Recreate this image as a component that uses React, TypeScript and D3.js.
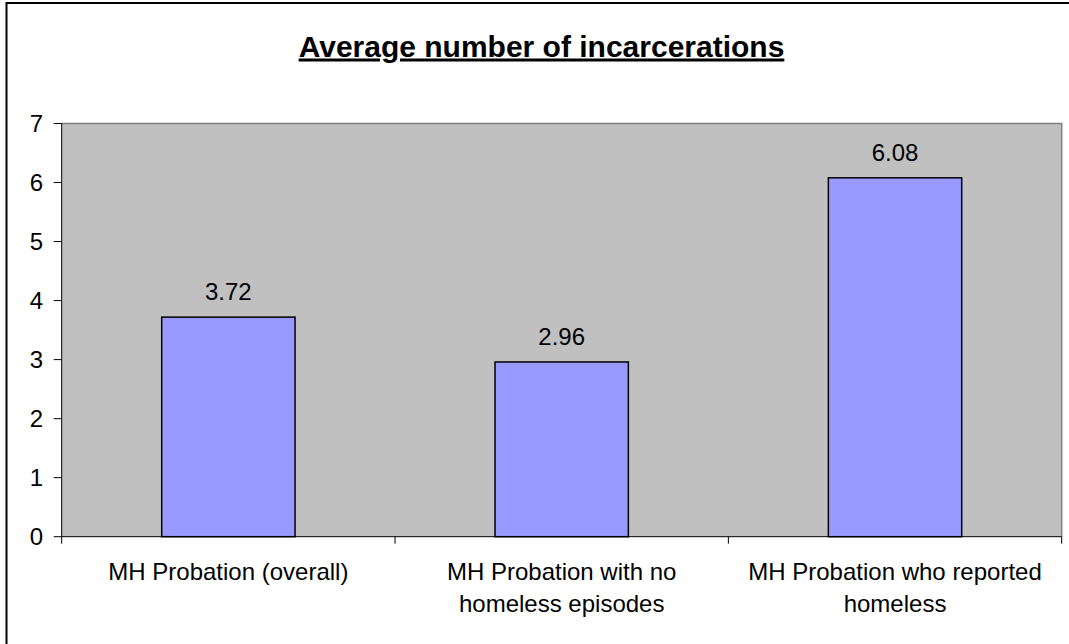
import React, { useRef, useEffect } from 'react'
import * as d3 from 'd3'

const title = 'Average number of incarcerations'
const categories = [
  ['MH Probation (overall)'],
  ['MH Probation with no', 'homeless episodes'],
  ['MH Probation who reported', 'homeless'],
]
const values = [3.72, 2.96, 6.08]
const yTicks = [0, 1, 2, 3, 4, 5, 6, 7]

const FONT = '"Liberation Sans", Arial, Helvetica, sans-serif'

const App = () => {
  const container = useRef<SVGSVGElement>(null)

  const width = 1069
  const height = 644
  const plot = { left: 61.7, right: 1061.7, top: 123.5, bottom: 536.7 }

  useEffect(() => {
    const svg = d3.select(container.current)
    svg.selectAll('*').remove()

    // chart area border (runs off the right / bottom of the picture)
    svg.append('rect')
      .attr('x', 6.5)
      .attr('y', 3)
      .attr('width', 1070)
      .attr('height', 660)
      .attr('fill', '#fff')
      .attr('stroke', '#000')
      .attr('stroke-width', 2)

    svg.append('text')
      .attr('x', 541.5)
      .attr('y', 56.5)
      .attr('text-anchor', 'middle')
      .attr('text-decoration', 'underline')
      .style('font-family', FONT)
      .style('font-size', '30px')
      .style('font-weight', 700)
      .style('fill', '#000')
      .text(title)

    const y = d3.scaleLinear()
      .domain([0, 7])
      .range([plot.bottom, plot.top])

    const x = d3.scaleBand<number>()
      .domain(d3.range(values.length))
      .range([plot.left, plot.right])
      .paddingInner(0.6)
      .paddingOuter(0.3)

    const edge = d3.scaleLinear()
      .domain([0, values.length])
      .range([plot.left, plot.right])

    // plot area
    svg.append('rect')
      .attr('x', plot.left)
      .attr('y', plot.top)
      .attr('width', plot.right - plot.left)
      .attr('height', plot.bottom - plot.top)
      .attr('fill', '#C0C0C0')

    svg.append('path')
      .attr('d', `M${plot.left},${plot.top}H${plot.right}V${plot.bottom}`)
      .attr('fill', 'none')
      .attr('stroke', '#808080')
      .attr('stroke-width', 1.5)

    // bars
    svg.append('g')
      .selectAll('rect')
      .data(values)
      .enter()
      .append('rect')
        .attr('x', (d, i) => x(i)!)
        .attr('y', d => y(d))
        .attr('width', x.bandwidth())
        .attr('height', d => y(0) - y(d))
        .attr('fill', '#9999FF')
        .attr('stroke', '#000')
        .attr('stroke-width', 1.5)

    // value labels
    svg.append('g')
      .selectAll('text')
      .data(values)
      .enter()
      .append('text')
        .attr('x', (d, i) => x(i)! + x.bandwidth() / 2)
        .attr('y', d => y(d) - 17)
        .attr('text-anchor', 'middle')
        .style('font-family', FONT)
        .style('font-size', '24px')
        .style('fill', '#000')
        .text(d => d.toFixed(2))

    // y axis
    const yAxis = svg.append('g')
    yAxis.append('line')
      .attr('x1', plot.left).attr('x2', plot.left)
      .attr('y1', plot.top).attr('y2', plot.bottom)
      .attr('stroke', '#000')
    yAxis.selectAll('line.tick')
      .data(yTicks)
      .enter()
      .append('line')
        .attr('class', 'tick')
        .attr('x1', plot.left - 8).attr('x2', plot.left)
        .attr('y1', d => y(d)).attr('y2', d => y(d))
        .attr('stroke', '#000')
    yAxis.selectAll('text')
      .data(yTicks)
      .enter()
      .append('text')
        .attr('x', 43)
        .attr('y', d => y(d) + 8.4)
        .attr('text-anchor', 'end')
        .style('font-family', FONT)
        .style('font-size', '24px')
        .style('fill', '#000')
        .text(d => d)

    // x axis
    const xAxis = svg.append('g')
    xAxis.append('line')
      .attr('x1', plot.left).attr('x2', plot.right)
      .attr('y1', plot.bottom).attr('y2', plot.bottom)
      .attr('stroke', '#000')
    xAxis.selectAll('line.tick')
      .data(d3.range(values.length + 1))
      .enter()
      .append('line')
        .attr('class', 'tick')
        .attr('x1', d => edge(d)).attr('x2', d => edge(d))
        .attr('y1', plot.bottom).attr('y2', plot.bottom + 7)
        .attr('stroke', '#000')

    const labels = xAxis.selectAll('text')
      .data(categories)
      .enter()
      .append('text')
        .attr('text-anchor', 'middle')
        .style('font-family', FONT)
        .style('font-size', '24px')
        .style('fill', '#000')

    labels.selectAll('tspan')
      .data((d, i) => d.map(line => ({ line, i })))
      .enter()
      .append('tspan')
        .attr('x', d => x(d.i)! + x.bandwidth() / 2)
        .attr('y', (d, j) => 580 + j * 32)
        .text(d => d.line)

  }, [])

  return (
    <svg
      ref={container}
      width={width}
      height={height}
      style={{ position: 'absolute', left: 0, top: 0, background: '#fff' }}
    />
  )
}

export default App
